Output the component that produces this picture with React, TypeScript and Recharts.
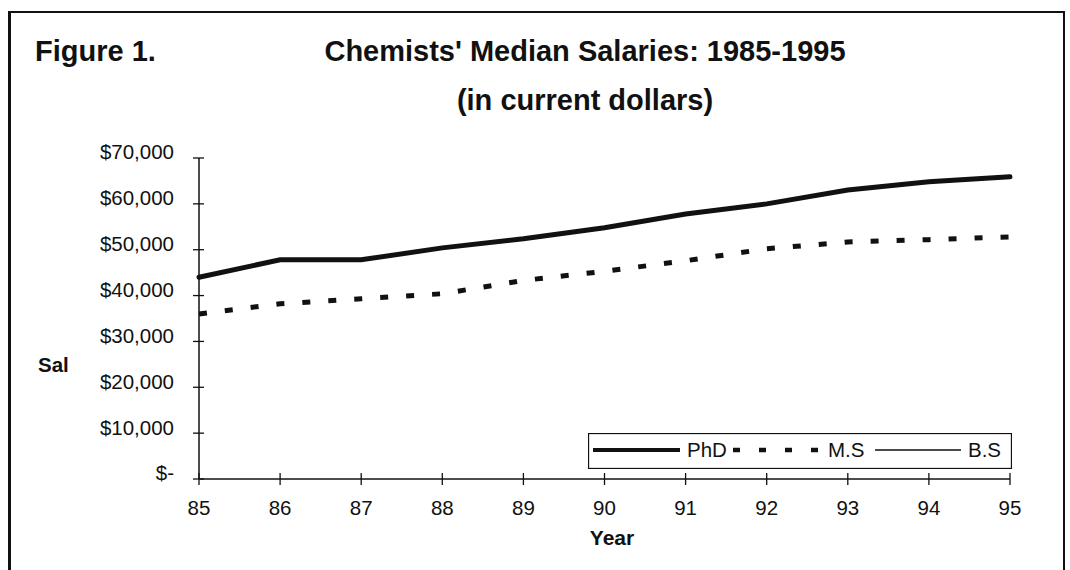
import { LineChart, Line, XAxis, YAxis, Legend } from "recharts";

// chemists' median salaries, current dollars
const years = ["85", "86", "87", "88", "89", "90", "91", "92", "93", "94", "95"];
const phdSalaries = [44000, 47800, 47800, 50400, 52400, 54800, 57800, 60000, 63000, 64800, 65900];
const msSalaries = [36000, 38200, 39300, 40400, 43300, 45300, 47600, 50200, 51700, 52200, 52800];
const bsSalaries: (number | null)[] = [null, null, null, null, null, null, null, null, null, null, null];
const yTicks = [0, 10000, 20000, 30000, 40000, 50000, 60000, 70000];
const legendOrder = ["phd", "ms", "bs"];

const data = years.map((y, i) => ({
  year: y,
  phd: phdSalaries[i],
  ms: msSalaries[i],
  bs: bsSalaries[i],
}));

const FONT = "'Liberation Sans', Arial, sans-serif";
const INK = "#111";
const Y_MARGIN = 25;
const X_MARGIN = 21;

const money = (v: number) => (v === 0 ? "$-" : "$" + v.toLocaleString("en-US"));

function YTick(props: any) {
  const { x, y, payload } = props;
  const ax = x + Y_MARGIN;
  return (
    <g>
      <line x1={ax - 6} x2={ax + 5} y1={y} y2={y} stroke={INK} strokeWidth={1.3} />
      <text x={x} y={y - 6} dy="0.36em" textAnchor="end" fontSize={20.5} fontFamily={FONT} fill={INK}>
        {money(payload.value)}
      </text>
    </g>
  );
}

function XTick(props: any) {
  const { x, y, payload } = props;
  const ay = y - X_MARGIN;
  return (
    <g>
      <line x1={x} x2={x} y1={ay - 6} y2={ay + 6} stroke={INK} strokeWidth={1.3} />
      <text x={x} y={y} dy="0.72em" textAnchor="middle" fontSize={20.5} fontFamily={FONT} fill={INK}>
        {payload.value}
      </text>
    </g>
  );
}

// legend samples sit in fixed slots inside the framed box
function sample(key: string, x0: number) {
  if (key === "phd") return <line x1={x0} x2={x0 + 87} y1={17} y2={17} stroke={INK} strokeWidth={4} />;
  if (key === "ms")
    return <line x1={x0} x2={x0 + 87} y1={17} y2={17} stroke={INK} strokeWidth={4.5} strokeDasharray="7 19" />;
  return <line x1={x0} x2={x0 + 86} y1={17} y2={17} stroke={INK} strokeWidth={1.5} />;
}

function LegendBox(props: any) {
  const items = [...(props.payload || [])].sort(
    (a: any, b: any) => legendOrder.indexOf(a.dataKey) - legendOrder.indexOf(b.dataKey)
  );
  const lineX = [5, 145, 287];
  const textX = [99, 240, 380];
  return (
    <svg width={424} height={36} style={{ display: "block" }}>
      <rect x={0.5} y={0.5} width={423} height={35} fill="#fff" stroke={INK} strokeWidth={1.3} />
      {items.map((it: any, i: number) => (
        <g key={it.value}>
          {sample(it.dataKey, lineX[i])}
          <text x={textX[i]} y={24} fontSize={20.5} fontFamily={FONT} fill={INK}>
            {it.value}
          </text>
        </g>
      ))}
    </svg>
  );
}

export default function App() {
  return (
    <div style={{ position: "absolute", left: 0, top: 0, width: 1070, height: 570, background: "#fff", overflow: "hidden" }}>
      {/* frame of the figure, bottom edge is cut off */}
      <div
        style={{
          position: "absolute",
          left: 8,
          top: 11,
          width: 1052,
          height: 600,
          borderLeft: "3px solid #111",
          borderTop: "2px solid #111",
          borderRight: "2px solid #111",
        }}
      />
      <svg width={1070} height={570} style={{ position: "absolute", left: 0, top: 0 }}>
        <g fontFamily={FONT} fontWeight="bold" fill={INK}>
          <text x={35} y={61} fontSize={29}>Figure 1.</text>
          <text x={585} y={61} fontSize={29} textAnchor="middle">Chemists' Median Salaries: 1985-1995</text>
          <text x={585} y={110} fontSize={29} textAnchor="middle">(in current dollars)</text>
          <text x={38} y={372} fontSize={20.5}>Sal</text>
          <text x={612} y={545} fontSize={21} textAnchor="middle">Year</text>
        </g>
      </svg>
      <div style={{ position: "absolute", left: 0, top: 0 }}>
        <LineChart width={1070} height={570} data={data} margin={{ top: 158, right: 60, bottom: 61, left: 99 }}>
          <XAxis
            dataKey="year"
            height={30}
            tickSize={0}
            tickMargin={X_MARGIN}
            tick={<XTick />}
            interval={0}
            stroke={INK}
            strokeWidth={1.5}
          />
          <YAxis
            width={100}
            domain={[0, 70000]}
            ticks={yTicks}
            tickSize={0}
            tickMargin={Y_MARGIN}
            tick={<YTick />}
            interval={0}
            stroke={INK}
            strokeWidth={1.5}
          />
          <Legend
            layout="horizontal"
            verticalAlign="middle"
            align="center"
            content={<LegendBox />}
            wrapperStyle={{ position: "absolute", left: 588, top: 433, width: 424, height: 36 }}
          />
          <Line
            dataKey="phd"
            name="PhD"
            stroke={INK}
            strokeWidth={5}
            strokeLinecap="round"
            dot={false}
            type="linear"
            isAnimationActive={false}
          />
          <Line
            dataKey="ms"
            name="M.S"
            stroke={INK}
            strokeWidth={5}
            strokeDasharray="8 18"
            dot={false}
            type="linear"
            isAnimationActive={false}
          />
          <Line
            dataKey="bs"
            name="B.S"
            stroke={INK}
            strokeWidth={1.5}
            dot={false}
            type="linear"
            isAnimationActive={false}
          />
        </LineChart>
      </div>
    </div>
  );
}
